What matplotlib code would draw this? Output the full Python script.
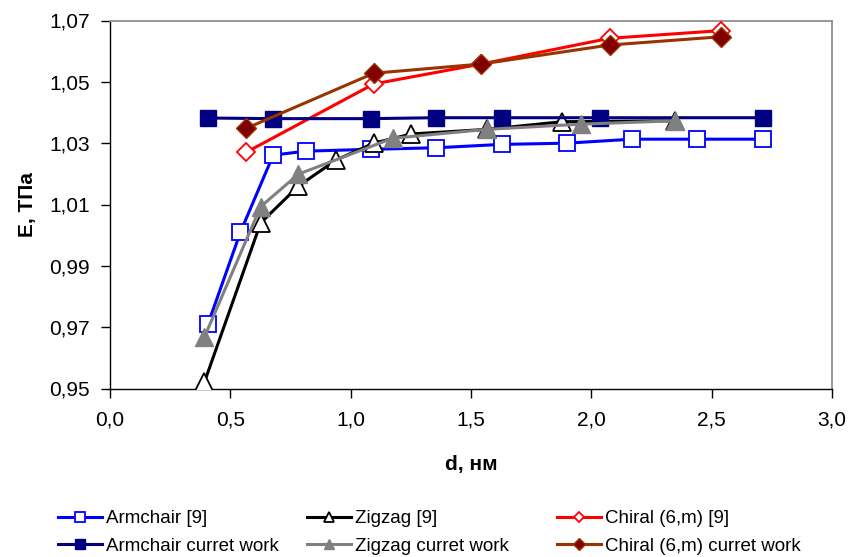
import matplotlib
matplotlib.use("Agg")
import matplotlib.pyplot as plt
from matplotlib.ticker import FuncFormatter

plt.rcParams['font.family'] = ['Liberation Sans', 'DejaVu Sans']

# --- data ---
d_arm9 = [0.407, 0.542, 0.678, 0.814, 1.085, 1.356, 1.627, 1.898, 2.170, 2.441, 2.712]
E_arm9 = [0.971, 1.001, 1.0261, 1.0274, 1.0280, 1.0285, 1.0296, 1.0300, 1.0313, 1.0313, 1.0313]

d_armc = [0.407, 0.678, 1.085, 1.356, 1.627, 2.034, 2.712]
E_armc = [1.0382, 1.0380, 1.0380, 1.0383, 1.0383, 1.0383, 1.0383]

d_zig9 = [0.392, 0.626, 0.783, 0.939, 1.096, 1.252, 1.566, 1.879, 2.349]
E_zig9 = [0.952, 1.004, 1.016, 1.0245, 1.030, 1.033, 1.0345, 1.0370, 1.0373]

d_zigc = [0.392, 0.626, 0.783, 1.174, 1.566, 1.957, 2.349]
E_zigc = [0.9667, 1.0093, 1.0199, 1.0316, 1.0345, 1.0362, 1.0373]

d_chi9 = [0.565, 1.096, 1.542, 2.076, 2.538]
E_chi9 = [1.0270, 1.0493, 1.0558, 1.0642, 1.0667]

d_chic = [0.565, 1.096, 1.542, 2.076, 2.538]
E_chic = [1.0348, 1.0528, 1.0558, 1.0620, 1.0647]

labels = ["Armchair [9]", "Armchair curret work", "Zigzag [9]",
          "Zigzag curret work", "Chiral (6,m) [9]", "Chiral (6,m) curret work"]

x_ticks = [0.0, 0.5, 1.0, 1.5, 2.0, 2.5, 3.0]
y_ticks = [0.95, 0.97, 0.99, 1.01, 1.03, 1.05, 1.07]

W, H = 850, 557
fig = plt.figure(figsize=(W / 100, H / 100), dpi=100)
L, R, T, B = 110, 832, 20.5, 388.5
ax = fig.add_axes([L / W, 1 - B / H, (R - L) / W, (B - T) / H])

lw = 2.2
h_arm9, = ax.plot(d_arm9, E_arm9, color='#0000FF', lw=lw, marker='s', ms=11.5,
                  mfc='white', mec='#0000FF', mew=1.3, zorder=3)
h_zig9, = ax.plot(d_zig9, E_zig9, color='black', lw=lw, marker='^', ms=13,
                  mfc='white', mec='black', mew=1.3, zorder=3)
h_chi9, = ax.plot(d_chi9, E_chi9, color='#FF0000', lw=lw, marker='D', ms=9,
                  mfc='white', mec='#FF0000', mew=1.3, zorder=3)
h_armc, = ax.plot(d_armc, E_armc, color='#000080', lw=lw, marker='s', ms=12,
                  mfc='#000080', mec='#000080', mew=1.0, zorder=4)
h_zigc, = ax.plot(d_zigc, E_zigc, color='#808080', lw=lw, marker='^', ms=13,
                  mfc='#808080', mec='#808080', mew=1.0, zorder=4)
h_chic, = ax.plot(d_chic, E_chic, color='#993300', lw=lw, marker='D', ms=10,
                  mfc='#800000', mec='#993300', mew=1.0, zorder=4)

ax.set_xlim(x_ticks[0], x_ticks[-1])
ax.set_ylim(y_ticks[0], y_ticks[-1])
ax.set_xticks(x_ticks)
ax.set_yticks(y_ticks)
comma1 = FuncFormatter(lambda v, p: f"{v:.1f}".replace('.', ','))
comma2 = FuncFormatter(lambda v, p: f"{v:.2f}".replace('.', ','))
ax.xaxis.set_major_formatter(comma1)
ax.yaxis.set_major_formatter(comma2)
ax.tick_params(axis='both', direction='out', length=6.5, width=1, labelsize=15,
               color='black')
ax.tick_params(axis='x', pad=9)
ax.tick_params(axis='y', pad=8)

for s in ['left', 'bottom']:
    ax.spines[s].set_color('black')
    ax.spines[s].set_linewidth(1.0)
for s in ['top', 'right']:
    ax.spines[s].set_color('#909090')
    ax.spines[s].set_linewidth(1.3)

ax.set_xlabel("d, нм", fontsize=15, fontweight='bold', labelpad=19)
ax.set_ylabel("E, ТПа", fontsize=15, fontweight='bold', labelpad=9)

# legend: three columns of two entries
groups = [([h_arm9, h_armc], labels[0:2], 58),
          ([h_zig9, h_zigc], labels[2:4], 307),
          ([h_chi9, h_chic], labels[4:6], 557)]
for hs, ls, xpx in groups:
    fig.legend(hs, ls, loc='center left',
               bbox_to_anchor=(xpx / W, 1 - 532.5 / H),
               frameon=False, fontsize=13.5, borderpad=0, borderaxespad=0,
               handlelength=2.35, handletextpad=0.2, labelspacing=0.55,
               markerscale=0.6)

fig.savefig("out.png", dpi=100)
